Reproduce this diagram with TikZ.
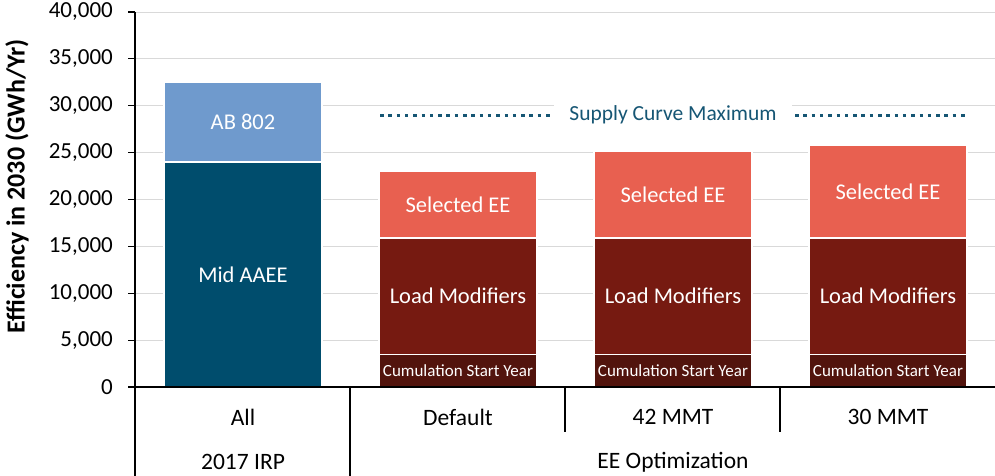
\documentclass[tikz,border=0pt]{standalone}
\usepackage{fontspec}
\setmainfont{Carlito}
\usetikzlibrary{positioning}
\definecolor{aaee}{RGB}{0,77,109}
\definecolor{abeight}{RGB}{111,154,205}
\definecolor{selee}{RGB}{232,96,80}
\definecolor{loadmod}{RGB}{118,26,17}
\definecolor{cumstart}{RGB}{82,20,13}
\definecolor{supply}{RGB}{22,86,116}
\definecolor{gridgray}{RGB}{217,217,217}
\tikzset{seg/.style={draw=white,line width=1.2pt},
  segtext/.style={text=white,font=\fontsize{22.5}{26}\selectfont},
  smalltext/.style={text=white,font=\fontsize{17}{20}\selectfont,inner sep=0pt},
  ticktext/.style={anchor=east,font=\fontsize{23}{26}\selectfont,inner sep=0pt},
  cattext/.style={font=\fontsize{23.5}{26}\selectfont},
  gridline/.style={draw=gridgray,line width=0.8pt},
  axisline/.style={draw=black,line width=1.2pt}}

\begin{document}
\begin{tikzpicture}[x=1pt,y=9.375pt]
\useasboundingbox (0,-9.493) rectangle (995,41.28);

% grid and ticks
\foreach \v in {5,10,...,40}
  \draw[gridline] (135,\v) -- (995,\v);
\foreach \v/\t in {0/0,5/{5,000},10/{10,000},15/{15,000},20/{20,000},25/{25,000},30/{30,000},35/{35,000},40/{40,000}}{
  \draw[axisline] (128,\v) -- (135,\v);
  \node[ticktext] (tick\v) at (113,\v) {\t};
}
\node[rotate=90,font=\fontsize{26}{28}\selectfont\bfseries] (ytitle) at (17,21.4) {Efficiency in 2030 (GWh/Yr)};

% 2017 IRP bar
\draw[seg,fill=aaee] (164,0) rectangle (322,24);
\draw[seg,fill=abeight] (164,24) rectangle (322,32.5);
\node[segtext] (midaaee) at (243,12) {Mid AAEE};
\node[segtext] (ab802) at (243,28.25) {AB 802};

% EE optimization bars
\foreach \x/\top/\n in {379/23.0/def,594/25.1/mmtA,809/25.8/mmtB}{
  \draw[seg,fill=cumstart] (\x,0) rectangle (\x+158,3.5);
  \draw[seg,fill=loadmod] (\x,3.5) rectangle (\x+158,15.9);
  \draw[seg,fill=selee] (\x,15.9) rectangle (\x+158,\top);
  \node[smalltext] (cum\n) at (\x+79,1.75) {Cumulation Start Year};
  \node[segtext] (load\n) at (\x+79,9.7) {Load Modifiers};
  \node[segtext] (sel\n) at (\x+79,{(15.9+\top)/2}) {Selected EE};
}

% supply curve maximum
\coordinate (supL) at (380,29);
\coordinate (supR) at (966,29);
\draw[supply,line width=3pt,dash pattern=on 3.5pt off 4.8pt] (supL) -- (supR);
\node[fill=white,text=supply,font=\fontsize{21.5}{24}\selectfont,inner xsep=15pt] (supmax) at (673,29) {Supply Curve Maximum};

% axes and category table
\draw[axisline] (135,40) -- (135,-9.493);
\draw[axisline] (135,0) -- (995,0);
\draw[axisline] (350,0) -- (350,-9.493);
\draw[axisline] (565,0) -- (565,-4.8);
\draw[axisline] (780,0) -- (780,-4.8);
\node[cattext] (catall) at (243,-3.2) {All};
\node[cattext] (catdef) at (458,-3.2) {Default};
\node[cattext] (cat42) at (673,-3.2) {42 MMT};
\node[cattext] (cat30) at (888,-3.2) {30 MMT};
\node[cattext] (grpirp) at (243,-8.0) {2017 IRP};
\node[cattext] (grpee) at (673,-8.0) {EE Optimization};
\end{tikzpicture}
\end{document}
